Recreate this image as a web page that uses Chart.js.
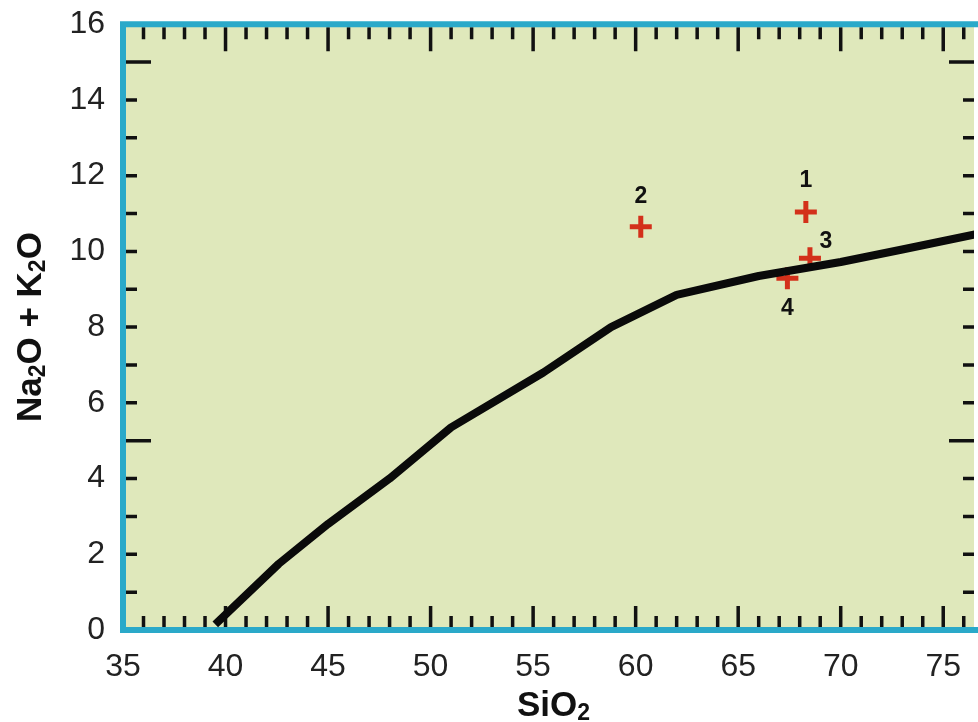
<!DOCTYPE html>
<html>
<head>
<meta charset="utf-8">
<script src="https://cdn.jsdelivr.net/npm/chart.js@4.4.0/dist/chart.umd.min.js"></script>
<style>
  body { margin: 0; background: #fff; }
  .frame { width: 978px; height: 722px; position: relative; overflow: hidden; }
  .chart-box { position: absolute; left: 0; top: -13px; width: 990px; height: 735px; }
</style>
</head>
<body>
<div class="frame"><div class="chart-box"><canvas id="tasChart"></canvas></div></div>
<script>
// dividing line (alkaline / subalkaline)
const lineSiO2 = [39.5, 42.6, 45, 48, 51, 55.5, 58.8, 62, 66, 70, 73, 77];
const lineAlk = [0.15, 1.75, 2.8, 4.0, 5.35, 6.8, 8.0, 8.85, 9.35, 9.72, 10.05, 10.5];

// samples
const sampleIds = ['1', '2', '3', '4'];
const sampleSiO2 = [68.3, 60.25, 68.5, 67.4];
const sampleAlk = [11.04, 10.65, 9.82, 9.29];

// tick labels
const xTicks = [35, 40, 45, 50, 55, 60, 65, 70, 75];
const yTicks = [0, 2, 4, 6, 8, 10, 12, 14, 16];

const FONT = "'Liberation Sans', Arial, sans-serif";
const CYAN = '#2aa9c9';

const toXY = (xs, ys) => xs.map((x, i) => ({ x: x, y: ys[i] }));

// plot background + frame + inward tick marks
const framePlugin = {
  id: 'frame',
  beforeDatasetsDraw(chart) {
    const { ctx, chartArea: a, scales } = chart;
    const xs = scales.x, ys = scales.y;
    ctx.save();
    ctx.fillStyle = '#dfe8bb';
    ctx.fillRect(a.left, a.top, a.right - a.left, a.bottom - a.top);

    ctx.strokeStyle = '#111';
    ctx.lineWidth = 3.5;
    ctx.beginPath();
    for (let v = 36; v <= 76; v++) {
      const px = xs.getPixelForValue(v);
      const big = v % 5 === 0;
      ctx.moveTo(px, a.bottom - 3);
      ctx.lineTo(px, a.bottom - 3 - (big ? 21 : 11));
      ctx.moveTo(px, a.top + 3);
      ctx.lineTo(px, a.top + 3 + (big ? 24 : 12));
    }
    for (let v = 1; v <= 15; v++) {
      const py = ys.getPixelForValue(v);
      const big = v === 5 || v === 15;
      ctx.moveTo(a.left + 3, py);
      ctx.lineTo(a.left + 3 + (big ? 25 : 11), py);
      ctx.moveTo(a.right, py);
      ctx.lineTo(a.right - (big ? 25 : 11), py);
    }
    ctx.stroke();

    ctx.strokeStyle = CYAN;
    ctx.lineWidth = 6;
    ctx.beginPath();
    ctx.moveTo(a.right + 5, a.top);
    ctx.lineTo(a.left, a.top);
    ctx.lineTo(a.left, a.bottom);
    ctx.lineTo(a.right + 5, a.bottom);
    ctx.stroke();
    ctx.restore();
  }
};

// draws text with subscript parts: [text, isSub]
function drawRich(ctx, parts, size, cx, baseY) {
  let total = 0;
  const widths = parts.map(([t, sub]) => {
    ctx.font = 'bold ' + (sub ? Math.round(size * 0.65) : size) + 'px ' + FONT;
    const w = ctx.measureText(t).width;
    total += w;
    return w;
  });
  let x = cx - total / 2;
  parts.forEach(([t, sub], i) => {
    ctx.font = 'bold ' + (sub ? Math.round(size * 0.65) : size) + 'px ' + FONT;
    ctx.fillText(t, x, baseY + (sub ? size * 0.1 : 0));
    x += widths[i];
  });
}

const titlesPlugin = {
  id: 'titles',
  afterDraw(chart) {
    const { ctx, chartArea: a } = chart;
    ctx.save();
    ctx.fillStyle = '#111';
    ctx.textAlign = 'left';
    ctx.textBaseline = 'alphabetic';
    drawRich(ctx, [['SiO', false], ['2', true]], 35, (a.left + a.right) / 2 + 5, a.bottom + 86);

    ctx.translate(41, (a.top + a.bottom) / 2);
    ctx.rotate(-Math.PI / 2);
    drawRich(ctx, [['Na', false], ['2', true], ['O + K', false], ['2', true], ['O', false]], 35, 0, 0);
    ctx.restore();

    // sample numbers
    const meta = chart.getDatasetMeta(1);
    const offsets = [[0, -31], [0, -30], [16, -17], [0, 30]];
    ctx.save();
    ctx.fillStyle = '#111';
    ctx.font = 'bold 23px ' + FONT;
    ctx.textAlign = 'center';
    ctx.textBaseline = 'middle';
    meta.data.forEach((pt, i) => {
      ctx.fillText(sampleIds[i], pt.x + offsets[i][0], pt.y + offsets[i][1]);
    });
    ctx.restore();
  }
};

new Chart(document.getElementById('tasChart'), {
  type: 'scatter',
  data: {
    datasets: [
      {
        data: toXY(lineSiO2, lineAlk),
        showLine: true,
        borderColor: '#0a0a0a',
        borderWidth: 8,
        pointRadius: 0,
        tension: 0,
        borderCapStyle: 'butt',
        borderJoinStyle: 'round'
      },
      {
        data: toXY(sampleSiO2, sampleAlk),
        pointStyle: 'cross',
        pointRadius: 11,
        pointBorderWidth: 5,
        borderColor: '#d3301a',
        backgroundColor: '#d3301a'
      }
    ]
  },
  options: {
    responsive: true,
    maintainAspectRatio: false,
    animation: false,
    layout: { padding: { top: 24, right: 0, left: 0, bottom: 0 } },
    plugins: {
      legend: { display: false },
      tooltip: { enabled: false }
    },
    scales: {
      x: {
        type: 'linear',
        min: 35,
        max: 76.5,
        afterFit: (s) => { s.height = 92; },
        afterBuildTicks: (s) => { s.ticks = xTicks.map(v => ({ value: v })); },
        grid: { display: false, drawTicks: false },
        border: { display: false },
        ticks: { color: '#222', padding: 18, font: { size: 32, family: FONT } }
      },
      y: {
        type: 'linear',
        min: 0,
        max: 16,
        afterFit: (s) => { s.width = 123; },
        afterBuildTicks: (s) => { s.ticks = yTicks.map(v => ({ value: v })); },
        grid: { display: false, drawTicks: false },
        border: { display: false },
        ticks: { color: '#222', padding: 18, font: { size: 32, family: FONT } }
      }
    }
  },
  plugins: [framePlugin, titlesPlugin]
});
</script>
</body>
</html>
